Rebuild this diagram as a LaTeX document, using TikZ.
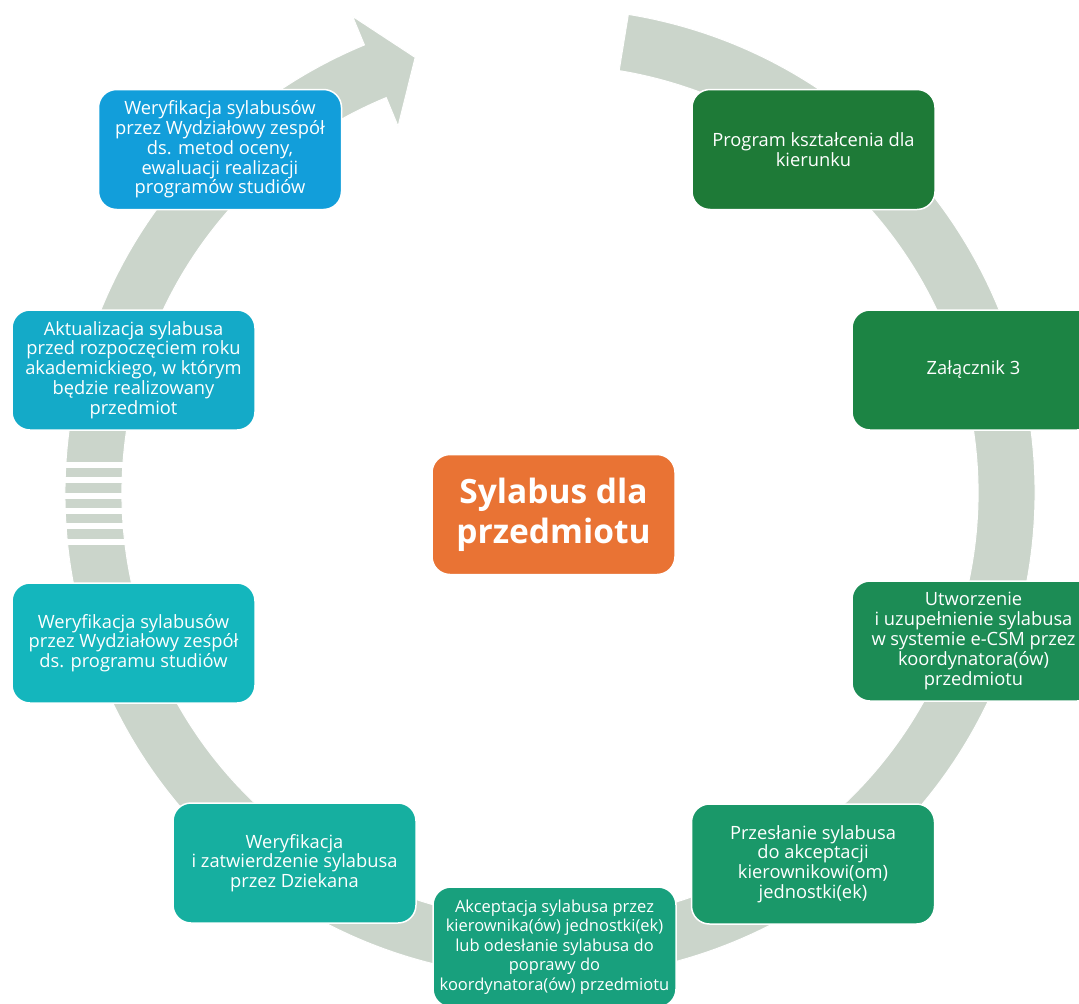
\documentclass[tikz,border=0pt]{standalone}
\usepackage{fontspec}
\setmainfont{Open Sans}
\definecolor{ringc}{RGB}{203,213,203}
\definecolor{c1}{RGB}{30,122,55}
\definecolor{c2}{RGB}{28,132,68}
\definecolor{c3}{RGB}{28,140,85}
\definecolor{c4}{RGB}{26,152,105}
\definecolor{c5}{RGB}{24,160,125}
\definecolor{c6}{RGB}{22,175,160}
\definecolor{c7}{RGB}{20,182,189}
\definecolor{c8}{RGB}{20,170,200}
\definecolor{c9}{RGB}{18,158,218}
\definecolor{corange}{RGB}{233,115,52}
\tikzset{
  stepbox/.style={rounded corners=18pt, minimum width=243pt, minimum height=120pt,
    draw=white, line width=1.5pt, text=white, align=center, inner sep=2pt,
    font=\fontsize{18.3}{19.8}\selectfont},
  smallbox/.style={stepbox, font=\fontsize{16.5}{19.6}\selectfont},
  centerbox/.style={stepbox, font=\fontsize{33.5}{40}\selectfont\bfseries},
}
\begin{document}
\begin{tikzpicture}[x=1pt,y=-1pt]
\useasboundingbox (0,0) rectangle (1079,1004);
\clip (0,0) rectangle (1079,1004);
% ring arrow
\begin{scope}[shift={(550,493)}]
\fill[ringc, draw=white, line width=1pt]
  (-80.7:485) arc[start angle=-80.7, end angle=247.5, radius=485]
  -- (247.5:516) -- (252.8:456) -- (247.5:397) -- (247.5:428)
  arc[start angle=247.5, end angle=-80.7, radius=428] -- cycle;
\end{scope}
% stripes on the left part of the ring
\foreach \yy in {465,480.3,495.6,510.9,526.2,541.5}
  \fill[white] (55,\yy-3) rectangle (135,\yy+3);
% boxes
\node[stepbox, fill=c1] (n1) at (813.5,149.5) {Program kształcenia dla\\kierunku};
\node[stepbox, fill=c2] (n2) at (973.5,370) {Załącznik 3};
\node[stepbox, fill=c3] (n3) at (973.5,641) {Utworzenie\\i uzupełnienie sylabusa\\w systemie e-CSM przez\\koordynatora(ów)\\przedmiotu};
\node[stepbox, fill=c4] (n4) at (813,864) {Przesłanie sylabusa\\do akceptacji\\kierownikowi(om)\\jednostki(ek)};
\node[smallbox, fill=c5] (n5) at (554.5,947) {Akceptacja sylabusa przez\\kierownika(ów) jednostki(ek)\\lub odesłanie sylabusa do\\poprawy do\\koordynatora(ów) przedmiotu};
\node[stepbox, fill=c6] (n6) at (294.5,863) {Weryfikacja\\i zatwierdzenie sylabusa\\przez Dziekana};
\node[stepbox, fill=c7] (n7) at (133.5,643) {Weryfikacja sylabusów\\przez Wydziałowy zespół\\ds. programu studiów};
\node[stepbox, fill=c8] (n8) at (133.5,370) {Aktualizacja sylabusa\\przed rozpoczęciem roku\\akademickiego, w którym\\będzie realizowany\\przedmiot};
\node[stepbox, fill=c9] (n9) at (220,149.5) {Weryfikacja sylabusów\\przez Wydziałowy zespół\\ds. metod oceny,\\ewaluacji realizacji\\programów studiów};
\node[centerbox, fill=corange] (c) at (553.5,514.5) {Sylabus dla\\przedmiotu};
\end{tikzpicture}
\end{document}
